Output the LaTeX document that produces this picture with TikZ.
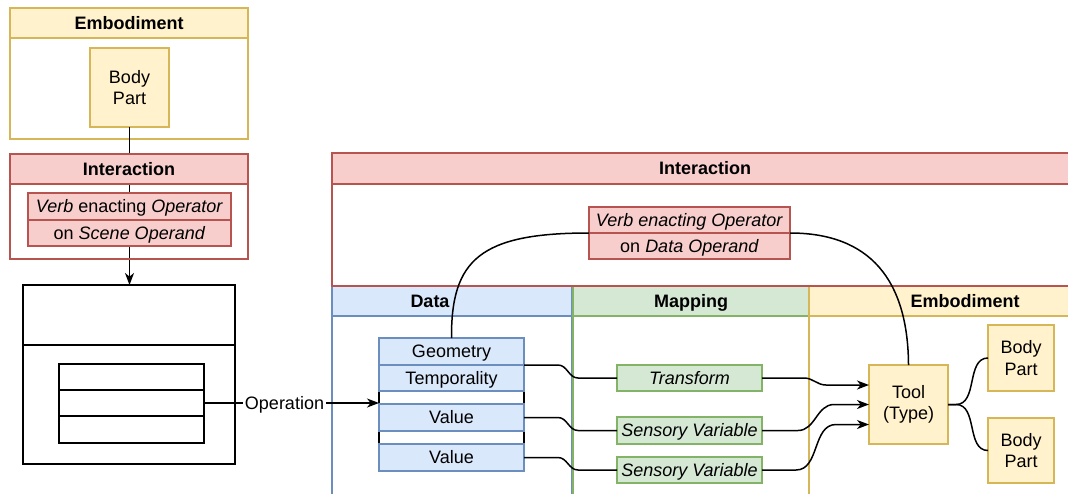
\documentclass[tikz,border=0pt]{standalone}
\usepackage{fontspec}
\setmainfont{Liberation Sans}
\usetikzlibrary{arrows.meta,calc}
\definecolor{yfill}{HTML}{FFF2CC}\definecolor{ystroke}{HTML}{D6B656}
\definecolor{rfill}{HTML}{F8CECC}\definecolor{rstroke}{HTML}{B85450}
\definecolor{bfill}{HTML}{DAE8FC}\definecolor{bstroke}{HTML}{6C8EBF}
\definecolor{gfill}{HTML}{D5E8D4}\definecolor{gstroke}{HTML}{82B366}
\newcommand\bx[7]{\node[#2, minimum width={(#5-#3)*0.5pt}, minimum height={(#6-#4)*0.5pt}] (#1) at ({(#3+#5)/2},{(#4+#6)/2}) {#7};}
\tikzset{
  base/.style={rectangle, inner sep=0pt, outer sep=0pt, line width=0.75pt, font=\fontsize{9}{10.8}\selectfont, align=center},
  sl/.style={text height=7pt, text depth=1pt},
  ybox/.style={base, draw=ystroke, fill=yfill},
  rbox/.style={base, draw=rstroke, fill=rfill},
  bbox/.style={base, draw=bstroke, fill=bfill},
  gbox/.style={base, draw=gstroke, fill=gfill},
  kbox/.style={base, draw=black, fill=white},
  hdr/.style={font=\fontsize{9}{10.8}\selectfont\bfseries, sl},
  wire/.style={line width=0.75pt, draw=black},
  arr/.style={wire, -{Stealth[length=6pt,width=4.5pt,inset=1.8pt]}},
}
\begin{document}
\begin{tikzpicture}[x=0.5pt,y=-0.5pt]
\useasboundingbox (0,0) rectangle (1068,493);
\clip (0,0) rectangle (1068,493);
\fill[white] (0,0) rectangle (1068,493);
% left: embodiment container
\bx{embL}{base,draw=ystroke,fill=white}{10}{8}{248}{139}{}
\bx{embLh}{ybox,hdr}{10}{8}{248}{38}{Embodiment}
\bx{bpL}{ybox}{90}{48}{169}{127}{Body\\Part}
% scene box
\bx{scene}{kbox}{23}{285}{235}{464}{}
\bx{scenetop}{kbox}{23}{285}{235}{345}{}
\bx{r1}{kbox}{59}{364}{204}{390}{}
\bx{r2}{kbox}{59}{390}{204}{416}{}
\bx{r3}{kbox}{59}{416}{204}{443}{}
\draw[arr] (bpL.south) -- (bpL.south |- scene.north);
% left: interaction container
\bx{intL}{base,draw=rstroke}{10}{154}{248}{259}{}
\bx{intLh}{rbox,hdr}{10}{154}{248}{184}{Interaction}
\bx{vLa}{rbox,sl}{28}{193}{231}{220}{\textit{Verb} enacting \textit{Operator}}
\bx{vLb}{rbox,sl}{28}{220}{231}{246}{on \textit{Scene Operand}}
% right: lanes
\bx{laneD}{base,draw=bstroke}{332}{286}{572}{530}{}
\bx{laneM}{base,draw=gstroke}{573}{286}{809}{530}{}
\bx{laneE}{base,draw=ystroke}{809}{286}{1121}{530}{}
\bx{laneDh}{bbox,hdr}{332}{286}{572}{316}{Data\hspace*{22pt}}
\bx{laneMh}{gbox,hdr}{573}{286}{809}{316}{Mapping}
\bx{laneEh}{ybox,hdr}{809}{286}{1121}{316}{Embodiment}
% right: interaction container
\bx{intR}{base,draw=rstroke}{332}{153}{1078}{286}{}
\bx{intRh}{rbox,hdr}{332}{153}{1078}{184}{Interaction}
\bx{vRa}{rbox,sl}{589}{207}{790}{233}{\textit{Verb enacting Operator}}
\bx{vRb}{rbox,sl}{589}{233}{790}{259}{on \textit{Data Operand}}
% data items
\bx{datab}{kbox}{379}{338}{524}{471}{}
\bx{geo}{bbox,sl}{379}{338}{524}{365}{Geometry}
\bx{temp}{bbox,sl}{379}{365}{524}{391}{Temporality}
\bx{val1}{bbox,sl}{379}{404}{524}{431}{Value}
\bx{val2}{bbox,sl}{379}{444}{524}{471}{Value}
% mapping items
\bx{tf}{gbox,sl}{617}{365}{762}{391}{\textit{Transform}}
\bx{sv1}{gbox,sl}{617}{417}{762}{444}{\textit{Sensory Variable}}
\bx{sv2}{gbox,sl}{617}{457}{762}{483}{\textit{Sensory Variable}}
% embodiment items
\bx{tool}{ybox}{869}{365}{948}{444}{Tool\\(Type)}
\bx{bp1}{ybox}{988}{325}{1054}{391}{Body\\Part}
\bx{bp2}{ybox}{988}{418}{1054}{483}{Body\\Part}
% connectors
\draw[arr] (r2.east) -- node[fill=white, inner sep=1pt, pos=0.46, font=\fontsize{9}{10.8}\selectfont, sl] {Operation} (r2.east -| datab.west);
\draw[wire] (geo.north) .. controls (451,260) and (480,233) .. (vRa.south west);
\draw[wire] (vRa.south east) .. controls (870,233) and (908,280) .. (tool.north);
\draw[wire] (temp.north east) -- (558,365) to[out=0,in=180] (578,378) -- (tf.west);
\draw[wire] (val1.east) -- (558,417.5) to[out=0,in=180] (578,430.5) -- (sv1.west);
\draw[wire] (val2.east) -- (558,457.5) to[out=0,in=180] (578,470) -- (sv2.west);
\draw[arr] (tf.east) -- (804,378) to[out=0,in=180] (826,385) -- ($(tool.west)+(0,-19.5)$);
\draw[arr] (sv1.east) -- (798,430.5) to[out=0,in=180] (834,404.5) -- (tool.west);
\draw[arr] (sv2.east) -- (796,470) to[out=0,in=180] (836,424.5) -- ($(tool.west)+(0,20)$);
\draw[wire] (tool.east) -- (956,404.5) to[out=0,in=180] (bp1.west);
\draw[wire] (tool.east) -- (956,404.5) to[out=0,in=180] (bp2.west);
\end{tikzpicture}
\end{document}
